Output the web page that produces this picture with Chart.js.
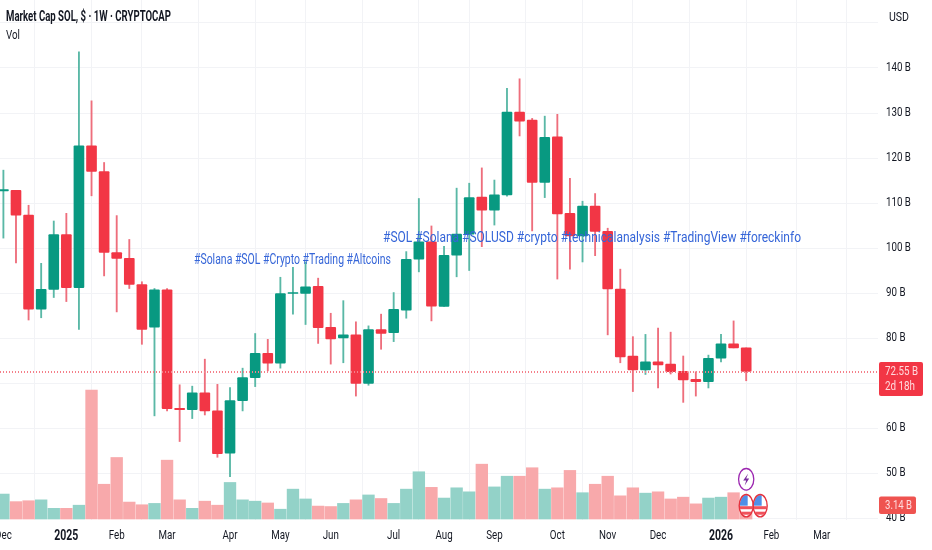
<!DOCTYPE html>
<html>
<head>
<meta charset="utf-8">
<title>Market Cap SOL</title>
<script src="https://cdn.jsdelivr.net/npm/chart.js@4/dist/chart.umd.min.js"></script>
<style>
html, body { margin: 0; padding: 0; background: #fff; overflow: hidden; }
canvas { display: block; }
</style>
</head>
<body>
<canvas id="sol-chart" width="932" height="550"></canvas>
<script>
// weekly candles, values in billions of USD
const opens = [112.7, 112.8, 107.3, 86.4, 90.8, 103.0, 91.2, 122.7, 117.0, 99.0, 97.7, 91.9, 82.4, 90.7, 64.4, 64.1, 67.8, 63.8, 54.4, 66.1, 71.2, 76.6, 74.4, 89.9, 89.9, 91.5, 82.4, 80.0, 80.7, 69.9, 81.9, 81.2, 86.2, 97.5, 101.4, 87.0, 98.4, 103.1, 111.3, 108.4, 111.8, 130.2, 128.4, 114.6, 124.7, 107.7, 102.7, 109.3, 103.7, 90.9, 76.0, 72.9, 74.7, 74.2, 72.6, 70.8, 70.3, 75.5, 78.7, 77.8];
const closes = [113.0, 107.3, 86.4, 90.8, 103.0, 91.2, 122.7, 117.0, 99.0, 97.7, 91.9, 81.9, 90.7, 64.3, 64.1, 67.8, 63.8, 54.3, 66.1, 71.2, 76.6, 74.4, 89.9, 90.1, 91.4, 82.3, 79.8, 80.7, 69.9, 81.9, 81.0, 86.4, 97.5, 101.4, 87.1, 98.4, 103.1, 111.2, 108.4, 111.8, 130.2, 128.2, 114.6, 124.6, 107.6, 102.7, 109.3, 103.7, 90.9, 75.8, 72.9, 74.7, 74.0, 72.5, 70.7, 70.3, 75.5, 78.7, 77.8, 72.55];
const highs = [117.3, 112.8, 109.5, 96.6, 106.0, 107.7, 143.6, 132.7, 119.0, 107.2, 101.9, 92.5, 91.0, 91.0, 69.6, 69.3, 75.3, 69.7, 69.0, 73.3, 81.0, 79.7, 93.5, 95.7, 96.9, 93.3, 85.5, 88.3, 83.6, 82.7, 85.3, 90.1, 99.2, 111.0, 104.9, 100.4, 113.3, 114.4, 117.8, 115.1, 135.5, 137.6, 128.8, 129.3, 129.7, 115.5, 110.4, 112.1, 104.4, 95.3, 80.3, 80.8, 82.2, 81.3, 76.0, 72.5, 76.2, 80.8, 83.8, 77.8];
const lows = [102.2, 96.7, 84.0, 84.5, 89.0, 88.1, 81.9, 111.6, 93.8, 85.8, 91.0, 78.6, 62.7, 63.8, 57.0, 62.1, 62.9, 53.5, 49.2, 63.8, 69.2, 72.7, 73.3, 85.3, 83.0, 78.8, 74.2, 74.5, 67.1, 69.5, 77.5, 79.2, 84.4, 94.7, 83.8, 87.0, 93.6, 95.0, 100.3, 105.1, 111.5, 124.9, 103.8, 111.2, 93.1, 95.3, 96.9, 98.3, 80.7, 74.5, 68.1, 71.9, 68.9, 72.0, 65.7, 67.1, 68.9, 74.7, 77.8, 70.5];
const volumes = [5.6, 3.9, 4.1, 4.3, 2.4, 2.4, 3.1, 28.9, 7.8, 13.8, 3.8, 3.2, 3.5, 13.2, 4.3, 2.4, 4.0, 3.1, 8.2, 4.3, 4.0, 3.6, 2.2, 6.7, 4.5, 2.9, 2.8, 3.5, 4.3, 5.4, 4.6, 3.5, 6.7, 10.6, 7.1, 4.7, 7.0, 6.1, 12.3, 7.2, 9.6, 9.6, 11.5, 6.7, 7.0, 10.9, 5.9, 7.8, 9.6, 5.2, 7.0, 5.8, 6.1, 4.5, 4.9, 3.4, 4.7, 4.9, 5.9, 3.14];

const monthWeeks = [0, 5, 9, 13, 18, 22, 26, 31, 35, 39, 44, 48, 52, 57, 61, 65];
const monthLabels = ['Dec', '2025', 'Feb', 'Mar', 'Apr', 'May', 'Jun', 'Jul', 'Aug', 'Sep', 'Oct', 'Nov', 'Dec', '2026', 'Feb', 'Mar'];

const lastPrice = 72.55;
const lastVolume = 3.14;

const GREEN = '#089981';
const RED = '#f23645';
const FONT = 'Roboto, sans-serif';

const isUp = i => closes[i] >= opens[i];
const weeks = opens.map((_, i) => i);

// the reference is squeezed sideways, so tick labels get condensed the same way
const squeezeText = {
    id: 'squeezeText',
    beforeDraw(chart) {
        const ctx = chart.ctx;
        const fill = CanvasRenderingContext2D.prototype.fillText;
        ctx.fillText = function (str, x, y, width) {
            fill.call(ctx, str, x, y, width || ctx.measureText(str).width * 0.75);
        };
    },
    afterDraw(chart) {
        delete chart.ctx.fillText;
    }
};

// small helper for all the text that sits on top of the chart
function text(ctx, str, x, y, font, color, width) {
    ctx.font = font;
    ctx.fillStyle = color;
    ctx.textAlign = 'left';
    ctx.textBaseline = 'middle';
    ctx.fillText(str, x, y, width);
}

function usFlag(ctx, x, y) {
    ctx.save();
    ctx.beginPath();
    ctx.ellipse(x, y, 6.4, 10.6, 0, 0, Math.PI * 2);
    ctx.fillStyle = '#fff';
    ctx.fill();
    ctx.clip();
    ctx.fillStyle = '#f0525c';
    ctx.fillRect(x - 8, y + 0.5, 16, 3);
    ctx.fillRect(x - 8, y + 6, 16, 3);
    ctx.fillStyle = '#4f8fe8';
    ctx.fillRect(x - 8, y - 12, 9.5, 12);
    ctx.restore();
    ctx.beginPath();
    ctx.ellipse(x, y, 7, 11.2, 0, 0, Math.PI * 2);
    ctx.strokeStyle = '#e5323e';
    ctx.lineWidth = 1.4;
    ctx.stroke();
}

const noPadding = scale => { scale.paddingLeft = 0; scale.paddingRight = 0; scale.paddingTop = 0; scale.paddingBottom = 0; };

const overlay = {
    id: 'overlay',
    afterDraw(chart) {
        const { ctx, chartArea, scales } = chart;
        const right = chartArea.right;
        const priceY = scales.y.getPixelForValue(lastPrice);
        const volY = scales.vol.getPixelForValue(lastVolume);
        const lastX = scales.x.getPixelForValue(59);
        ctx.save();

        // bottom of the price scale is cut off by the pane
        ctx.fillStyle = '#fff';
        ctx.fillRect(right, 521, 54, 29);

        // last price line
        ctx.strokeStyle = '#f4808a';
        ctx.lineWidth = 2;
        ctx.setLineDash([1, 2]);
        ctx.beginPath();
        ctx.moveTo(0, Math.round(priceY));
        ctx.lineTo(right, Math.round(priceY));
        ctx.stroke();
        ctx.setLineDash([]);

        // header
        text(ctx, 'Market Cap SOL, $ · 1W · CRYPTOCAP', 6, 17.5, 'bold 14px ' + FONT, '#131722', 165);
        text(ctx, 'Vol', 6, 35.5, '13px ' + FONT, '#131722', 14);
        text(ctx, 'USD', 889, 17.5, '12px ' + FONT, '#131722', 20);

        // idea tags
        const blue = '#3565d8';
        text(ctx, '#Solana #SOL #Crypto #Trading #Altcoins', 194, 260, '15px ' + FONT, blue, 197);
        text(ctx, '#SOL #Solana #SOLUSD #crypto #technicalanalysis #TradingView #foreckinfo', 383, 238, '15px ' + FONT, blue, 418);

        // price and volume badges
        ctx.fillStyle = RED;
        ctx.beginPath();
        ctx.roundRect(right + 1, priceY - 9.5, 44, 34, 2);
        ctx.fill();
        text(ctx, '72.55 B', right + 7, priceY + 0.5, '13px ' + FONT, '#ffd9dc', 33);
        text(ctx, '2d 18h', right + 7, priceY + 15, '13px ' + FONT, '#ffd9dc', 30);
        ctx.fillStyle = '#ef5350';
        ctx.beginPath();
        ctx.roundRect(right + 1, volY - 8.5, 37, 17.6, 2);
        ctx.fill();
        text(ctx, '3.14 B', right + 7, volY + 0.5, '13px ' + FONT, '#ffd9dc', 27);

        // event markers
        ctx.beginPath();
        ctx.ellipse(lastX, 479.3, 7.6, 10.8, 0, 0, Math.PI * 2);
        ctx.fillStyle = '#fff';
        ctx.fill();
        ctx.strokeStyle = '#9c27b0';
        ctx.lineWidth = 1.3;
        ctx.stroke();
        ctx.beginPath();
        ctx.moveTo(lastX + 2, 473.5);
        ctx.lineTo(lastX - 3, 480.5);
        ctx.lineTo(lastX, 480.5);
        ctx.lineTo(lastX - 1.5, 485.5);
        ctx.lineTo(lastX + 3, 478.5);
        ctx.lineTo(lastX, 478.5);
        ctx.closePath();
        ctx.fillStyle = '#7b2d9e';
        ctx.fill();
        usFlag(ctx, lastX, 505.7);
        usFlag(ctx, lastX + 14, 505.7);
        ctx.restore();
    }
};

new Chart(document.getElementById('sol-chart').getContext('2d'), {
    type: 'bar',
    data: {
        datasets: [
            {
                label: 'Body',
                data: weeks.map(i => ({ x: i, y: [opens[i], closes[i]] })),
                backgroundColor: weeks.map(i => isUp(i) ? GREEN : RED),
                barThickness: 10,
                borderRadius: 1,
                borderSkipped: false,
                grouped: false,
                yAxisID: 'y',
                order: 1
            },
            {
                label: 'Wick',
                data: weeks.map(i => ({ x: i, y: [lows[i], highs[i]] })),
                backgroundColor: weeks.map(i => isUp(i) ? '#5ab8a6' : '#ee6e7c'),
                barThickness: 1.2,
                grouped: false,
                yAxisID: 'y',
                order: 2
            },
            {
                label: 'Vol',
                data: weeks.map(i => ({ x: i, y: volumes[i] })),
                backgroundColor: weeks.map(i => isUp(i) ? '#93d2c8' : '#f8a9ab'),
                barThickness: 11.7,
                grouped: false,
                yAxisID: 'vol',
                order: 3
            }
        ]
    },
    options: {
        responsive: false,
        animation: false,
        devicePixelRatio: 1,
        layout: { padding: 0, autoPadding: false },
        plugins: { legend: { display: false }, tooltip: { enabled: false } },
        scales: {
            x: {
                type: 'linear',
                min: -0.27,
                max: 69.47,
                offset: false,
                afterBuildTicks: scale => { scale.ticks = monthWeeks.map(v => ({ value: v })); },
                afterFit: scale => { scale.height = 30; noPadding(scale); },
                border: { display: false },
                grid: { color: '#f2f3f6', drawTicks: false },
                ticks: {
                    autoSkip: false,
                    maxRotation: 0,
                    padding: 8,
                    color: '#131722',
                    font: ctx => {
                        const label = ctx.tick ? monthLabels[monthWeeks.indexOf(ctx.tick.value)] : '';
                        const isYear = label && label.startsWith('20');
                        return { family: FONT, size: isYear ? 14 : 13, weight: isYear ? 'bold' : 'normal' };
                    },
                    callback: v => monthLabels[monthWeeks.indexOf(v)]
                }
            },
            y: {
                position: 'right',
                min: 39.56,
                max: 155.11,
                afterFit: scale => { scale.width = 54; noPadding(scale); },
                border: { display: false },
                grid: { color: '#f2f3f6', drawTicks: false },
                ticks: {
                    stepSize: 10,
                    includeBounds: false,
                    padding: 8,
                    color: '#131722',
                    font: { family: FONT, size: 13 },
                    callback: v => (v === 150 || v === 70) ? '' : v + ' B'
                }
            },
            vol: {
                display: false,
                min: -0.22,
                max: 116.4
            }
        }
    },
    plugins: [squeezeText, overlay]
});
</script>
</body>
</html>
